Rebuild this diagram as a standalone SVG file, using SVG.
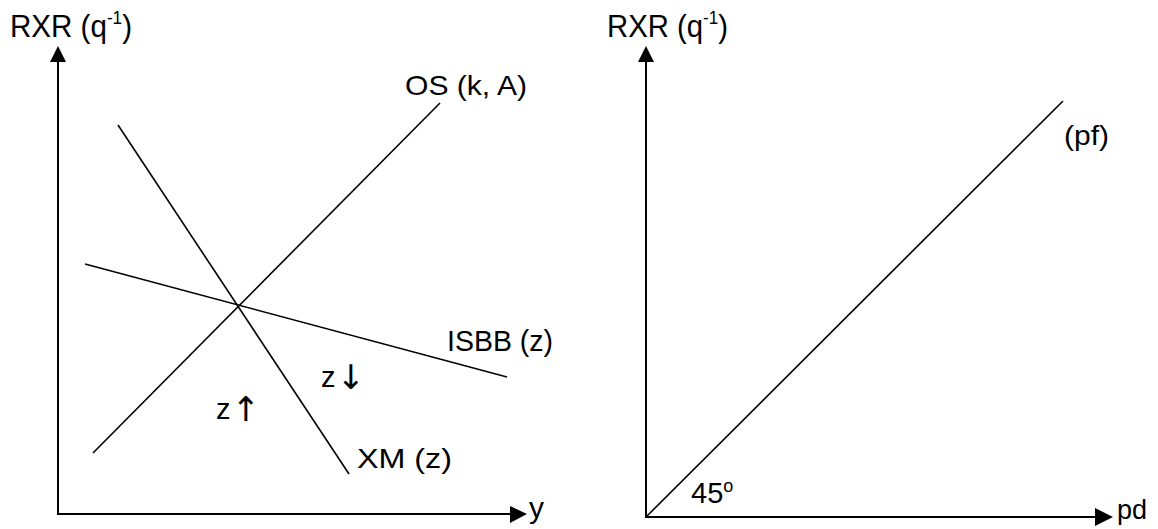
<svg xmlns="http://www.w3.org/2000/svg" width="1158" height="529" viewBox="0 0 1158 529">
<style>
.ax{stroke:#000;stroke-width:2;fill:none}
.ln{stroke:#000;stroke-width:1.6;fill:none}
.t{font-family:"Liberation Sans",Arial,sans-serif;fill:#000}
.arr{font-family:"DejaVu Sans",sans-serif;fill:#000}
.head{fill:#000}
</style>
<rect width="1158" height="529" fill="#fff"/>
<g id="connectors">
  <g id="left-axes">
    <line class="ax" x1="58" y1="514" x2="58" y2="60"/>
    <polygon class="head" points="58,46 50,62 66,62"/>
    <line class="ax" x1="57" y1="514" x2="512" y2="514"/>
    <polygon class="head" points="527,514 510,506 510,523"/>
  </g>
  <g id="left-curves">
    <line class="ln" x1="93" y1="453" x2="440" y2="103"/>
    <line class="ln" x1="118" y1="125" x2="349" y2="474"/>
    <line class="ln" x1="85" y1="264" x2="507" y2="377"/>
  </g>
  <g id="right-axes">
    <line class="ax" x1="646" y1="517" x2="646" y2="60"/>
    <polygon class="head" points="646,46 638,62 654,62"/>
    <line class="ax" x1="645" y1="517" x2="1098" y2="517"/>
    <polygon class="head" points="1113,517 1095,508 1095,526"/>
  </g>
  <g id="right-curves">
    <line class="ln" x1="646" y1="517" x2="1063" y2="101"/>
  </g>
</g>
<g id="label-rxr-left"><text class="t" x="10" y="37" font-size="31" textLength="122" lengthAdjust="spacingAndGlyphs">RXR (q<tspan font-size="18" dy="-13">-1</tspan><tspan dy="13">)</tspan></text></g>
<g id="label-rxr-right"><text class="t" x="607" y="37" font-size="31" textLength="121" lengthAdjust="spacingAndGlyphs">RXR (q<tspan font-size="18" dy="-13">-1</tspan><tspan dy="13">)</tspan></text></g>
<g id="label-os"><text class="t" x="405" y="95" font-size="28" textLength="122" lengthAdjust="spacingAndGlyphs">OS (k, A)</text></g>
<g id="label-isbb"><text class="t" x="447" y="351" font-size="30" textLength="106" lengthAdjust="spacingAndGlyphs">ISBB (z)</text></g>
<g id="label-xm"><text class="t" x="357" y="468" font-size="28" textLength="95" lengthAdjust="spacingAndGlyphs">XM (z)</text></g>
<g id="label-zdown"><text class="t" x="321" y="387" font-size="29">z<tspan class="arr" font-size="34" dx="1" dy="2">↓</tspan></text></g>
<g id="label-zup"><text class="t" x="216" y="419" font-size="29">z<tspan class="arr" font-size="34" dx="1" dy="2">↑</tspan></text></g>
<g id="label-y"><text class="t" x="529" y="518" font-size="30">y</text></g>
<g id="label-pf"><text class="t" x="1064" y="145" font-size="27" textLength="45" lengthAdjust="spacingAndGlyphs">(pf)</text></g>
<g id="label-45"><text class="t" x="691" y="503" font-size="29">45<tspan font-size="18" dy="-11">o</tspan></text></g>
<g id="label-pd"><text class="t" x="1117" y="519" font-size="27">pd</text></g>
</svg>
